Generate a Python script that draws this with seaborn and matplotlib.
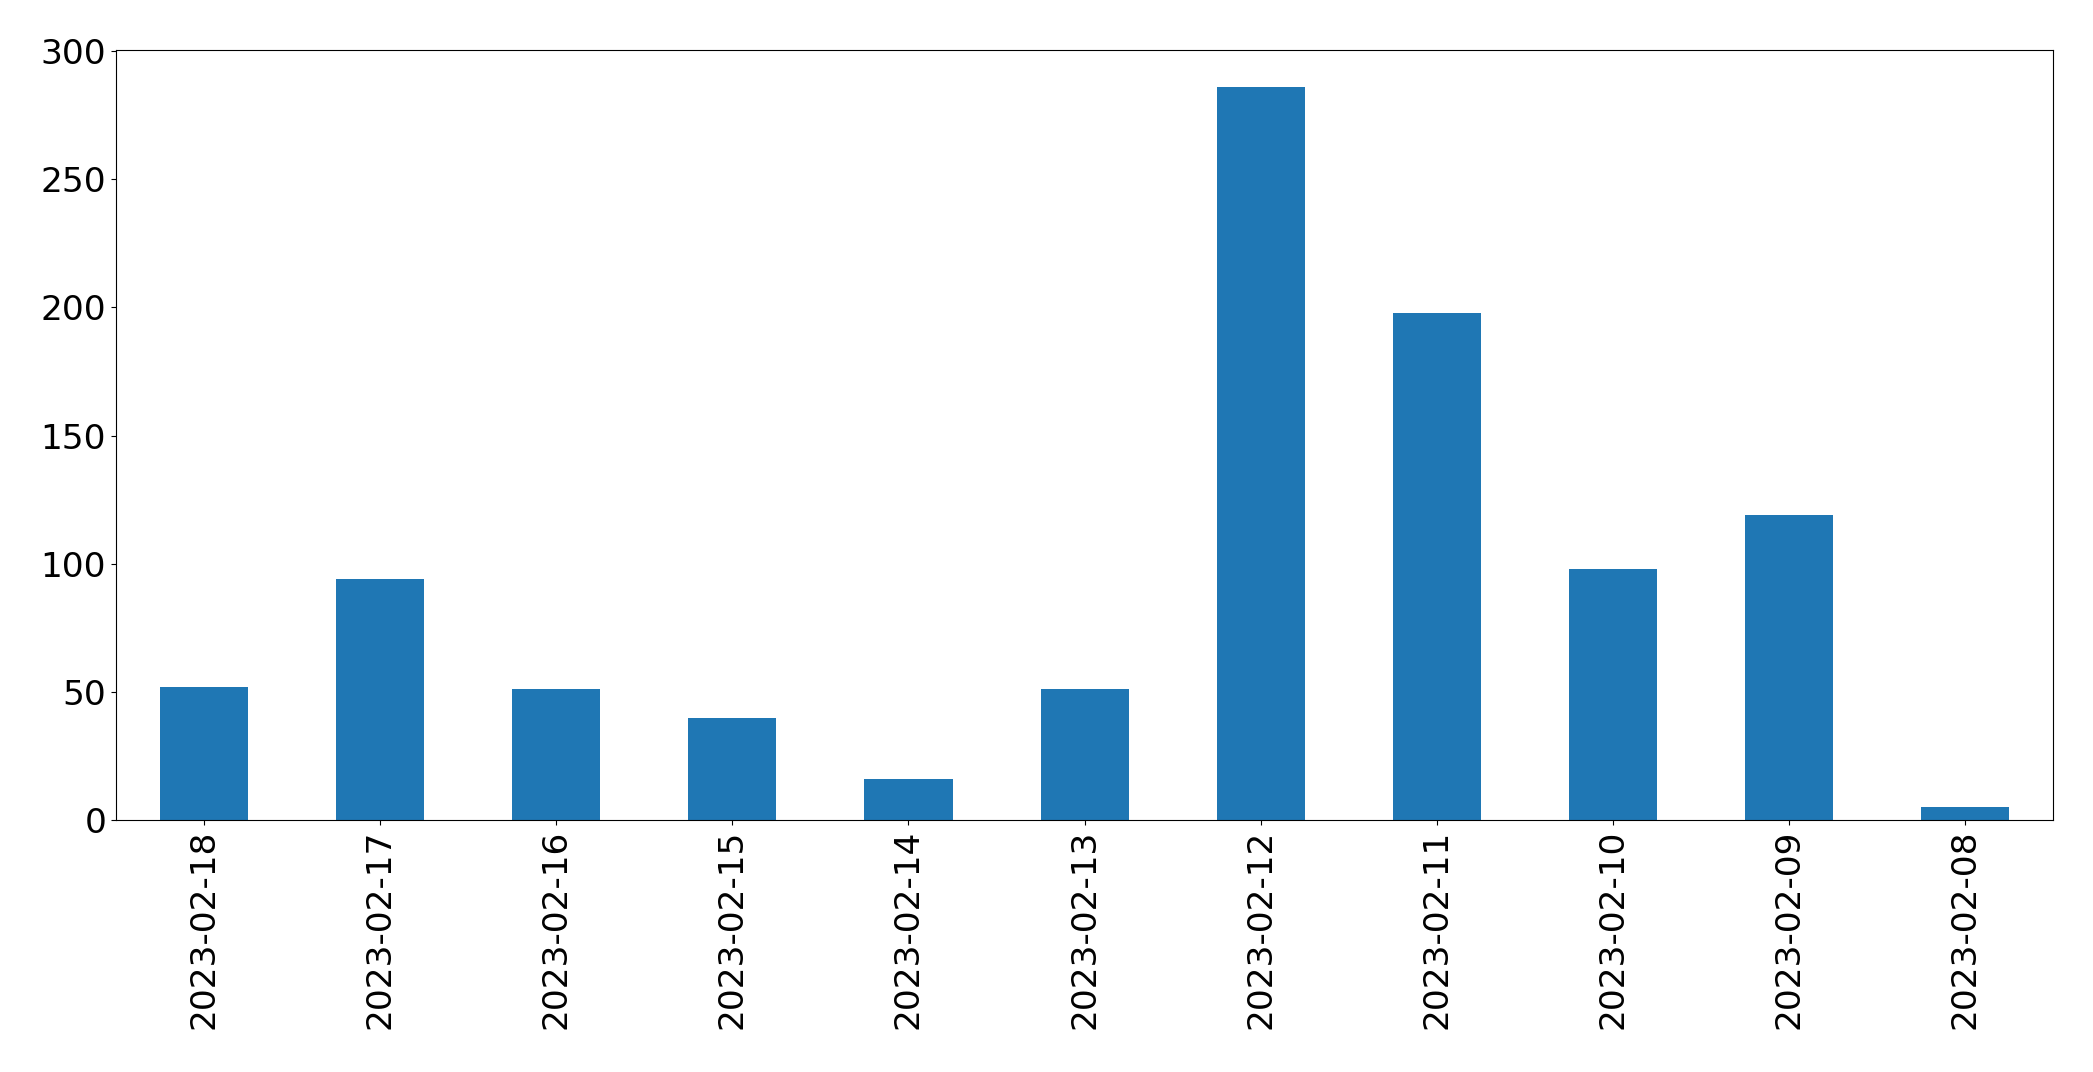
import matplotlib
matplotlib.use("Agg")
import matplotlib.pyplot as plt
import seaborn as sns
import pandas as pd

dates = ["2023-02-18", "2023-02-17", "2023-02-16", "2023-02-15", "2023-02-14",
         "2023-02-13", "2023-02-12", "2023-02-11", "2023-02-10", "2023-02-09",
         "2023-02-08"]
counts = [52, 94, 51, 40, 16, 51, 286, 198, 98, 119, 5]

df = pd.DataFrame({"date": dates, "count": counts})

plt.rcParams['font.family'] = ['DejaVu Sans']
fig = plt.figure(figsize=(20.93, 10.72), dpi=100)
ax = fig.add_axes([0.0554, 0.235, 0.9256, 0.718])

sns.barplot(data=df, x="date", y="count", order=dates, color="#1f77b4",
            saturation=1, width=0.5, ax=ax)

ax.set_xlim(-0.5, len(dates) - 0.5)
ax.set_ylim(0, max(counts) * 1.05)
ax.set_xlabel("")
ax.set_ylabel("")
for s in ax.spines.values():
    s.set_color("black")
ax.tick_params(axis="x", labelsize=24.75, labelrotation=90)
ax.tick_params(axis="y", labelsize=24.75)

fig.savefig("out.png", dpi=100)
